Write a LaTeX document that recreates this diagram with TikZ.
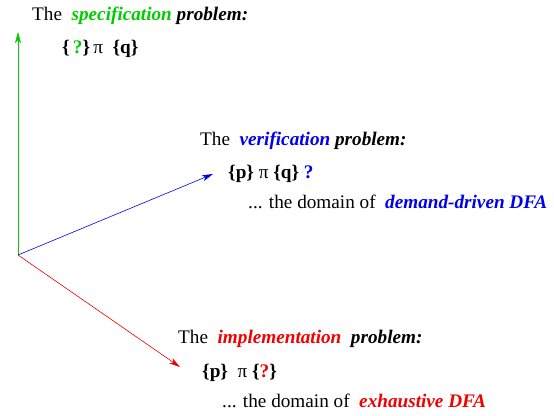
\documentclass[tikz,border=0pt]{standalone}
\usepackage{fontspec}
\setmainfont{Liberation Serif}
\usetikzlibrary{arrows.meta,positioning}
\definecolor{specgreen}{RGB}{0,205,0}
\definecolor{verblue}{RGB}{0,0,240}
\definecolor{implred}{RGB}{240,0,0}
\newcommand{\bi}[1]{\textbf{\textit{#1}}}

\begin{document}
\begin{tikzpicture}[x=1pt,y=-1pt,
    probtext/.style={anchor=base west, inner sep=0pt, font=\fontsize{19.2}{22}\selectfont},
    vec/.style={-{Stealth[length=11pt,width=6pt,inset=3pt]}, line width=0.6pt}]
		%%%%% axes %%%%%
		\useasboundingbox (0,0) rectangle (554,415);
		\coordinate (origin) at (18,255);
		\coordinate (spec tip) at (18,32);
		\coordinate (ver tip) at (213,174);
		\coordinate (impl tip) at (180,367);
		
		\draw[vec, specgreen] (origin) -- (spec tip);
		\draw[vec, verblue] (origin) -- (ver tip);
		\draw[vec, implred] (origin) -- (impl tip);
		
		%%%%% specification %%%%%
		\node[probtext] (spec title) at (32,20) {The\ \ \textcolor{specgreen}{\bi{specification}} \bi{problem:}};
		\node[probtext] (spec triple) at (62,53) {\textbf{\{\,\textcolor{specgreen}{?}\}}\,π\ \ \textbf{\{q\}}};
		
		%%%%% verification %%%%%
		\node[probtext] (ver title) at (200,145) {The\ \ \textcolor{verblue}{\bi{verification}} \bi{problem:}};
		\node[probtext] (ver triple) at (228,178) {\textbf{\{p\}}\ π\ \textbf{\{q\}}\ \textcolor{verblue}{\textbf{?}}};
		\node[probtext] (ver domain) at (248,208) {... the domain of\ \ \textcolor{verblue}{\bi{demand-driven DFA}}};
		
		%%%%% implementation %%%%%
		\node[probtext] (impl title) at (178,343) {The\ \ \textcolor{implred}{\bi{implementation}}\ \ \bi{problem:}};
		\node[probtext] (impl triple) at (202,377) {\textbf{\{p\}}\ \ π\ \textbf{\{\textcolor{implred}{?}\}}};
		\node[probtext] (impl domain) at (222,407) {... the domain of\ \ \textcolor{implred}{\bi{exhaustive DFA}}};
		%%%%% END %%%%%
	\end{tikzpicture}
\end{document}
